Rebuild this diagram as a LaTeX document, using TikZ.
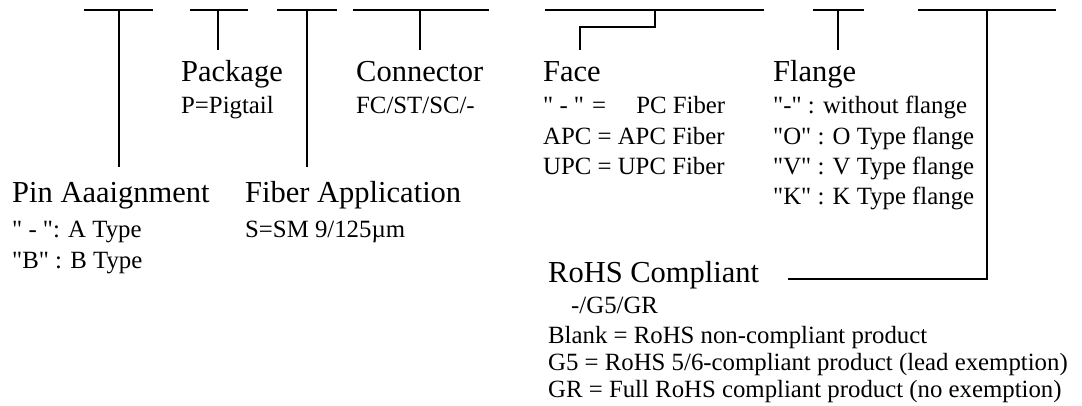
\documentclass[tikz,border=0pt]{standalone}
\usepackage{fontspec}
\setmainfont{Liberation Serif}[Ligatures=TeXOff]
\begin{document}
\begin{tikzpicture}[x=1pt,y=-1pt,
  ttl/.style={anchor=base west, inner sep=0pt, font=\fontsize{30.5}{36}\selectfont},
  sub/.style={anchor=base west, inner sep=0pt, font=\fontsize{24.8}{30}\selectfont},
  bar/.style={line width=1.8pt},
  lead/.style={line width=1.8pt}]
\useasboundingbox (0,0) rectangle (1082,406);

% ---- titles and descriptions ----
\node[ttl] (pin) at (12,203) {Pin Aaaignment};
\node[sub] (pin1) at (12,238) {" - ": A Type};
\node[sub] (pin2) at (12,269) {"B" : B Type};

\node[ttl] (fib) at (245,203) {Fiber Application};
\node[sub] (fib1) at (245,238) {S=SM 9/125µm};

\node[ttl] (pkg) at (181,82) {Package};
\node[sub] (pkg1) at (181,114) {P=Pigtail};

\node[ttl] (con) at (356,82) {Connector};
\node[sub] (con1) at (356,114) {FC/ST/SC/-};

\node[ttl] (face) at (543,82) {Face};
\node[sub] (face1) at (543,114) {\makebox[182pt][l]{" - "\hspace{8pt}=\hfill PC Fiber}};
\node[sub] (face2) at (543,145) {APC = APC Fiber};
\node[sub] (face3) at (543,175) {UPC = UPC Fiber};

\node[ttl] (fla) at (773,82) {Flange};
\node[sub] (fla1) at (773,114) {"-" : without flange};
\node[sub] (fla2) at (773,145) {"O" : O Type flange};
\node[sub] (fla3) at (773,175) {"V" : V Type flange};
\node[sub] (fla4) at (773,205) {"K" : K Type flange};

\node[ttl] (rohs) at (548,283) {RoHS Compliant};
\node[sub] (rohs1) at (571,313) {-/G5/GR};
\node[sub] (rohs2) at (548,343) {Blank = RoHS non-compliant product};
\node[sub] (rohs3) at (548,370) {G5 = RoHS 5/6-compliant product (lead exemption)};
\node[sub] (rohs4) at (548,397) {GR = Full RoHS compliant product (no exemption)};

% ---- code bars ----
\coordinate (b1l) at (84,10);  \coordinate (b1r) at (153,10);  \coordinate (b1m) at (119,10);
\coordinate (b2l) at (190,10); \coordinate (b2r) at (248,10);  \coordinate (b2m) at (218,10);
\coordinate (b3l) at (277,10); \coordinate (b3r) at (337,10);  \coordinate (b3m) at (307,10);
\coordinate (b4l) at (353,10); \coordinate (b4r) at (489,10);  \coordinate (b4m) at (420,10);
\coordinate (b5l) at (545,10); \coordinate (b5r) at (764,10);  \coordinate (b5m) at (655,10);
\coordinate (b6l) at (813,10); \coordinate (b6r) at (864,10);  \coordinate (b6m) at (838,10);
\coordinate (b7l) at (918,10); \coordinate (b7r) at (1056,10); \coordinate (b7m) at (987,10);

\draw[bar] (b1l) -- (b1r);
\draw[bar] (b2l) -- (b2r);
\draw[bar] (b3l) -- (b3r);
\draw[bar] (b4l) -- (b4r);
\draw[bar] (b5l) -- (b5r);
\draw[bar] (b6l) -- (b6r);
\draw[bar] (b7l) -- (b7r);

% ---- leads ----
\coordinate (e1) at (119,167);
\coordinate (e2) at (218,50);
\coordinate (e3) at (307,167);
\coordinate (e4) at (420,50);
\coordinate (e5) at (580,50);
\coordinate (e6) at (838,50);
\coordinate (e7) at (788,279);

\draw[lead] (b1m) -- (e1);
\draw[lead] (b2m) -- (e2);
\draw[lead] (b3m) -- (e3);
\draw[lead] (b4m) -- (e4);
\draw[lead] (b5m) -- (655,27) -- (580,27) -- (e5);
\draw[lead] (b6m) -- (e6);
\draw[lead] (b7m) -- (987,279) -- (e7);
\end{tikzpicture}
\end{document}
